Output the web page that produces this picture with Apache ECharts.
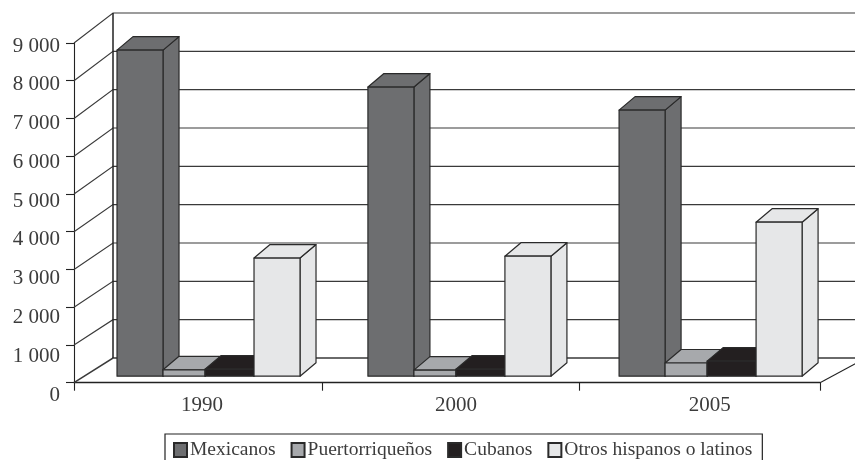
<!DOCTYPE html>
<html><head><meta charset="utf-8">
<style>html,body{margin:0;padding:0;background:#fff}#c{width:855px;height:460px}</style>
<script src="https://cdn.jsdelivr.net/npm/echarts@6/dist/echarts.min.js"></script>
</head><body><div id="c"></div>
<script>
const years = ['1990','2000','2005'];
const seriesNames = ['Mexicanos','Puertorriqueños','Cubanos','Otros hispanos o latinos'];
const mexicanos = [8640,7660,7050];
const puertorriquenos = [170,160,350];
const cubanos = [185,185,400];
const otros = [3130,3180,4080];
const yTicks = [0,1000,2000,3000,4000,5000,6000,7000,8000,9000];
const colors = ['#6d6e70','#a7a9ac','#231f20','#e6e7e8'];
const allValues = [mexicanos,puertorriquenos,cubanos,otros];

// layout in x-axis units (one unit = one nominal category band)
const bandPx = 746/3;
const tickAt = [0,1,2.03,3];
const labelAt = [0.515,1.536,2.557];
const groupStart = [0.173,1.182,2.192];
const edges = [0,46,88,137,183].map(p=>p/bandPx);
const depth = [16,-13.5], baseLift = 6.5;
const stroke = '#2a2a2a';

function barItem(si){
  return function(params, api){
    const i = params.dataIndex, v = api.value(0);
    const x0 = api.coord([groupStart[i]+edges[si],0])[0];
    const x1 = api.coord([groupStart[i]+edges[si+1],0])[0];
    const yb = api.coord([0,0])[1]-baseLift;
    const yt = api.coord([0,v])[1]-baseLift;
    const [dx,dy] = depth;
    const st = {fill:colors[si],stroke,lineWidth:1.2,lineJoin:'round'};
    return {type:'group',children:[
      {type:'polygon',shape:{points:[[x1,yb],[x1+dx,yb+dy],[x1+dx,yt+dy],[x1,yt]]},style:st},
      {type:'polygon',shape:{points:[[x0,yt],[x0+dx,yt+dy],[x1+dx,yt+dy],[x1,yt]]},style:st},
      {type:'rect',shape:{x:x0,y:yt,width:x1-x0,height:yb-yt},style:st}
    ]};
  };
}
function wallItem(params, api){
  const v = api.value(0);
  const p = api.coord([0,v]);
  const right = api.getWidth();
  const bx = p[0]+39;
  const by = p[1]-(24.7+(30-24.7)*v/9000);
  return {type:'polyline',shape:{points:[p,[bx,by],[right,by]]},
    style:{fill:'none',stroke:'#3a3a3a',lineWidth:v===0?1.5:1.1}};
}
function shellItem(params, api){
  const f0=api.coord([0,0]), f9=api.coord([0,9000]), fr=api.coord([3,0]);
  const bx=f0[0]+39;
  return {type:'group',children:[
    {type:'line',shape:{x1:bx,y1:f9[1]-30,x2:bx,y2:f0[1]-24.7},style:{stroke:'#222',lineWidth:1.5}},
    {type:'line',shape:{x1:fr[0],y1:fr[1],x2:fr[0]+39,y2:fr[1]-21},style:{stroke:'#222',lineWidth:1.1}}
  ]};
}
const chart = echarts.init(document.getElementById('c'),null,{renderer:'canvas'});
const font = '"Liberation Serif", serif';
chart.setOption({
  animation:false,
  backgroundColor:'#fff',
  grid:[
    {left:74,top:43,width:746,height:339.7},
    {left:60,top:46,width:10,height:349}
  ],
  xAxis:[
    {type:'value',gridIndex:0,min:0,max:3,splitLine:{show:false},
     axisLine:{show:true,onZero:false,lineStyle:{color:'#222',width:1.3}},
     axisTick:{show:true,length:8,customValues:tickAt,lineStyle:{color:'#222',width:1.1}},
     axisLabel:{show:true,customValues:labelAt,margin:12,color:'#3c3c3c',fontFamily:font,fontSize:21,
       formatter:v=>years[labelAt.findIndex(a=>Math.abs(a-v)<1e-6)]}},
    {type:'value',gridIndex:1,min:0,max:1,show:false}
  ],
  yAxis:[
    {type:'value',gridIndex:0,min:0,max:9000,interval:1000,splitLine:{show:false},
     axisLine:{show:true,onZero:false,lineStyle:{color:'#222',width:1.1}},
     axisTick:{show:true,length:8,lineStyle:{color:'#222',width:1.1}},axisLabel:{show:false}},
    {type:'value',gridIndex:1,min:0,max:9000,interval:1000,splitLine:{show:false},position:'left',
     axisLine:{show:false},axisTick:{show:false},
     axisLabel:{margin:0,color:'#3c3c3c',fontFamily:font,fontSize:21,
       formatter:v=>String(v).replace(/(\d)(\d{3})$/,'$1 $2')}}
  ],
  legend:{
    data:seriesNames,left:165,top:434,
    borderColor:'#222',borderWidth:1.2,padding:[6,10,20,8],
    itemWidth:13,itemHeight:14,itemGap:15,icon:'rect',
    textStyle:{fontFamily:font,fontSize:19.5,color:'#3c3c3c',padding:[0,0,0,-2]},
    selectedMode:false
  },
  series:[
    {type:'custom',name:'walls',coordinateSystem:'cartesian2d',xAxisIndex:0,yAxisIndex:0,
     renderItem:wallItem,data:yTicks.map(v=>[v]),encode:{y:0},silent:true,clip:false,z:1},
    {type:'custom',name:'shell',coordinateSystem:'cartesian2d',xAxisIndex:0,yAxisIndex:0,
     renderItem:shellItem,data:[[0]],silent:true,clip:false,z:1}
  ].concat(seriesNames.map((n,si)=>({
    type:'custom',name:n,coordinateSystem:'cartesian2d',xAxisIndex:0,yAxisIndex:0,
    renderItem:barItem(si),data:allValues[si].map(v=>[v]),encode:{y:0},clip:false,z:3,
    itemStyle:{color:colors[si],borderColor:stroke,borderWidth:1.2}
  })))
});
</script></body></html>
